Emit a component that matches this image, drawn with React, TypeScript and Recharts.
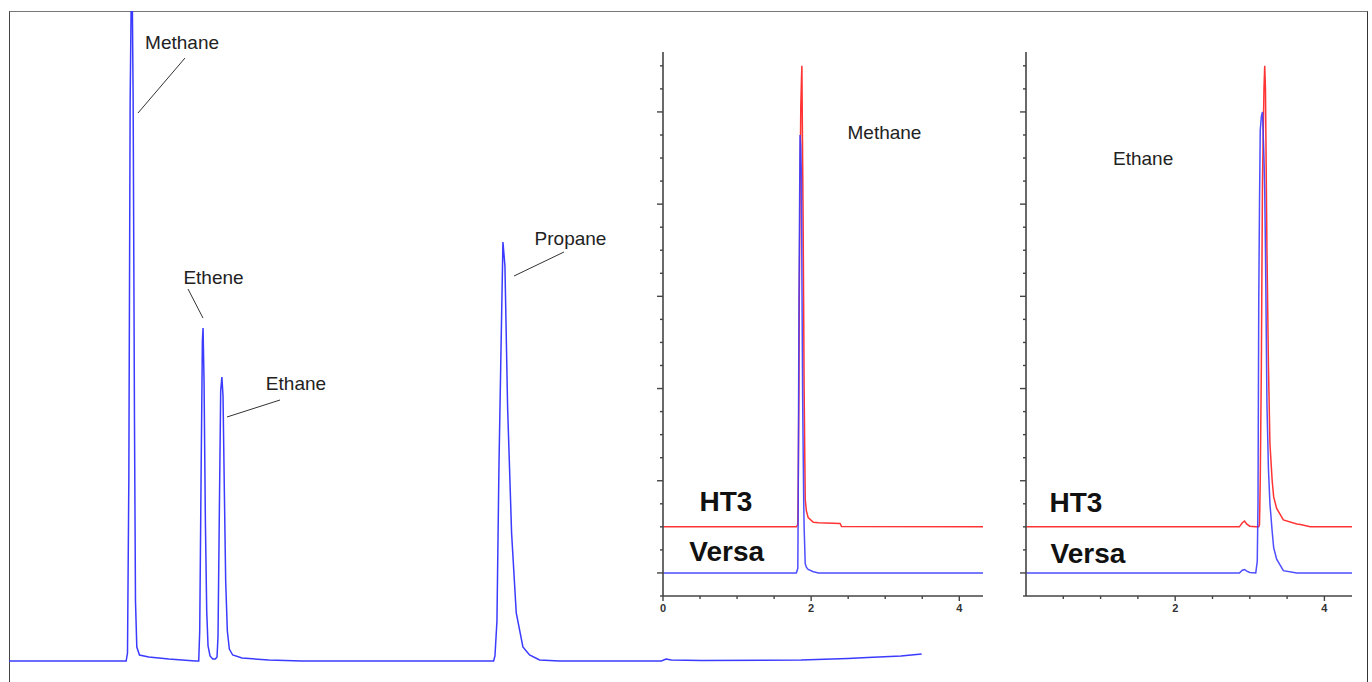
import { LineChart, Line, XAxis, YAxis, ReferenceLine, ReferenceDot } from 'recharts';

// main chromatogram (time in min, detector signal)
const mainTime = [
  0, 1.76, 1.78, 1.8, 1.82, 1.845, 1.865, 1.885, 1.9, 1.92, 1.96, 2.1, 2.4, 2.8,
  2.85, 2.865, 2.885, 2.905, 2.915, 2.93, 2.95, 2.97, 2.99, 3.02, 3.06, 3.1,
  3.125, 3.14, 3.16, 3.18, 3.198, 3.215, 3.235, 3.255, 3.28, 3.31, 3.36, 3.5, 3.9, 4.4,
  7.28, 7.3, 7.33, 7.36, 7.39, 7.42, 7.45, 7.49, 7.55, 7.62, 7.72, 7.82, 7.97, 8.27,
  9.8, 9.87, 9.95, 10.4, 11.9, 12.6, 12.9, 13.4, 13.71,
];
const mainSignal = [
  0, 0, 8, 180, 560, 720, 560, 240, 60, 14, 6, 4, 2, 0,
  0, 30, 180, 320, 333, 280, 140, 50, 15, 5, 2, 2,
  4, 25, 150, 270, 284, 265, 170, 80, 30, 12, 6, 3, 1, 0,
  0, 5, 40, 194, 308, 419, 395, 254, 128, 48, 14, 6, 1, 0,
  0, 2, 1, 0.5, 1, 2.5, 3.5, 5, 7,
];

// inset: methane, HT3 vs Versa
const methaneTime = [0, 1.8, 1.82, 1.825, 1.835, 1.84, 1.85, 1.86, 1.87, 1.875, 1.885, 1.89, 1.9, 1.905, 1.92, 1.935, 1.96, 2.03, 2.1, 2.39, 2.41, 4.32];
const methaneVersa = [0, 0, 0.2, 2.7, 11.3, 14, 19, 18.5, 17, 13, 7.7, 6, 3, 2, 0.4, 0.25, 0.15, 0.05, 0, 0, 0, 0];
const methaneHT3 = [2, 2, 2.1, 3.5, 8, 12, 16.5, 20.2, 21.5, 22, 18, 16, 11, 8, 3.2, 2.7, 2.4, 2.2, 2.18, 2.15, 2.02, 2];

// inset: ethane, HT3 vs Versa
const ethaneTime = [0, 2.86, 2.9, 2.93, 2.96, 3.0, 3.08, 3.1, 3.11, 3.12, 3.13, 3.14, 3.155, 3.17, 3.19, 3.2, 3.21, 3.23, 3.25, 3.27, 3.3, 3.32, 3.36, 3.45, 3.63, 3.68, 3.81, 4.37];
const ethaneVersa = [0, 0, 0.12, 0.15, 0.08, 0.02, 0, 0.5, 3, 11.8, 16, 19.2, 19.8, 20, 18, 16.6, 14, 7.3, 4.5, 3, 1.8, 1.1, 0.6, 0.1, 0, 0, 0, 0];
const ethaneHT3 = [2, 2, 2.18, 2.25, 2.12, 2.03, 2, 2, 2, 2, 2.1, 4, 9, 17, 21, 22, 21, 14, 9, 5.6, 4, 3.3, 2.8, 2.3, 2.12, 2.1, 2, 2];

const insetXTicks = [0, 0.5, 1, 1.5, 2, 2.5, 3, 3.5, 4];
const insetXTicks2 = [0.5, 1, 1.5, 2, 2.5, 3, 3.5, 4];
const insetXLabels = [0, 2, 4];
const insetYTicks = [-1, 0, 1, 2, 3, 4, 5, 6, 7, 8, 9, 10, 11, 12, 13, 14, 15, 16, 17, 18, 19, 20, 21, 22];

const mainData = mainTime.map((t, i) => ({ t, signal: mainSignal[i] }));
const methaneData = methaneTime.map((t, i) => ({ t, ht3: methaneHT3[i], versa: methaneVersa[i] }));
const ethaneData = ethaneTime.map((t, i) => ({ t, ht3: ethaneHT3[i], versa: ethaneVersa[i] }));

const BLUE = '#3b3bff';
const RED = '#ff3434';
const AXIS = '#444';
const FONT = '"Liberation Sans", Arial, sans-serif';

function InsetYTick({ x, y, payload }: any) {
  const major = payload.value % 4 === 0;
  return <line x1={x - (major ? 6 : 3)} x2={x} y1={y} y2={y} stroke={AXIS} strokeWidth={1.4} />;
}

function InsetXTick({ x, y, payload }: any) {
  const major = insetXLabels.includes(payload.value);
  return (
    <g>
      <line x1={x} x2={x} y1={y} y2={y + (major ? 5 : 3)} stroke={AXIS} strokeWidth={1.4} />
      {major && (
        <text x={x} y={y + 16} textAnchor="middle" fontSize={11} fontWeight="bold" fill="#333">
          {payload.value}
        </text>
      )}
    </g>
  );
}

function Inset({ data, width, rightPad, xMax, xTicks, title, titlePos, ht3Pos, versaPos }: any) {
  return (
    <LineChart width={width} height={600} data={data}
      margin={{ top: 12, right: rightPad, bottom: 14, left: 0 }}>
      <XAxis dataKey="t" type="number" domain={[0, xMax]} ticks={xTicks} interval={0}
        axisLine={{ stroke: AXIS, strokeWidth: 1.6 }} tickLine={false} tickSize={0} tickMargin={0}
        height={30} tick={<InsetXTick />} />
      <YAxis type="number" domain={[-1, 22.6]} ticks={insetYTicks} interval={0} allowDataOverflow
        axisLine={{ stroke: AXIS, strokeWidth: 1.6 }} tickLine={false} tickSize={0} tickMargin={0}
        width={50} tick={<InsetYTick />} />
      <Line type="linear" dataKey="ht3" stroke={RED} strokeWidth={1.5} dot={false} isAnimationActive={false} />
      <Line type="linear" dataKey="versa" stroke={BLUE} strokeWidth={1.5} strokeOpacity={0.9} dot={false} isAnimationActive={false} />
      <ReferenceDot x={titlePos[0]} y={titlePos[1]} r={0} fill="none" stroke="none"
        label={{ value: title, position: 'center', fill: '#222', fontSize: 19 }} />
      <ReferenceDot x={ht3Pos[0]} y={ht3Pos[1]} r={0} fill="none" stroke="none"
        label={{ value: 'HT3', position: 'center', fill: '#111', fontSize: 28, fontWeight: 'bold' }} />
      <ReferenceDot x={versaPos[0]} y={versaPos[1]} r={0} fill="none" stroke="none"
        label={{ value: 'Versa', position: 'center', fill: '#111', fontSize: 28, fontWeight: 'bold' }} />
    </LineChart>
  );
}

// peak labels with leader lines, in data units of the main chart
const peakNotes = [
  { name: 'Methane', text: [2.6, 619], leader: [[2.644, 603], [1.938, 548]] },
  { name: 'Ethene', text: [3.072, 384], leader: [[2.689, 372], [2.914, 343]] },
  { name: 'Ethane', text: [4.311, 278], leader: [[4.071, 261], [3.275, 244]] },
  { name: 'Propane', text: [8.435, 423], leader: [[8.337, 409], [7.586, 385]] },
];

export default function App() {
  return (
    <div style={{ position: 'absolute', left: 0, top: 0, width: 1372, height: 682, background: '#fff', fontFamily: FONT, overflow: 'hidden' }}>
      <div style={{ position: 'absolute', left: 9, top: 11, width: 1357, height: 680, borderTop: '1px solid #777', borderLeft: '1px solid #444', borderRight: '1px solid #333' }} />
      <div style={{ position: 'absolute', left: 0, top: 0 }}>
        <LineChart width={1372} height={682} data={mainData} margin={{ top: 11, right: 5, bottom: 0, left: 9 }}>
          <XAxis dataKey="t" type="number" domain={[0, 20.4]} hide />
          <YAxis type="number" domain={[-21, 650]} allowDataOverflow hide />
          <Line type="linear" dataKey="signal" stroke={BLUE} strokeWidth={1.5} dot={false} isAnimationActive={false} />
          {peakNotes.map((n) => (
            <ReferenceLine key={n.name + '-l'} segment={[{ x: n.leader[0][0], y: n.leader[0][1] }, { x: n.leader[1][0], y: n.leader[1][1] }]}
              stroke="#333" strokeWidth={1} />
          ))}
          {peakNotes.map((n) => (
            <ReferenceDot key={n.name} x={n.text[0]} y={n.text[1]} r={0} fill="none" stroke="none"
              label={{ value: n.name, position: 'center', fill: '#222', fontSize: 19 }} />
          ))}
        </LineChart>
      </div>
      <div style={{ position: 'absolute', left: 613, top: 40 }}>
        <Inset data={methaneData} width={380} rightPad={10} xMax={4.32} xTicks={insetXTicks} title="Methane"
          titlePos={[2.99, 19.1]} ht3Pos={[0.85, 3.13]} versaPos={[0.86, 0.96]} />
      </div>
      <div style={{ position: 'absolute', left: 976, top: 40 }}>
        <Inset data={ethaneData} width={390} rightPad={14} xMax={4.37} xTicks={insetXTicks2} title="Ethane"
          titlePos={[1.57, 18.0]} ht3Pos={[0.67, 3.09]} versaPos={[0.83, 0.87]} />
      </div>
    </div>
  );
}
